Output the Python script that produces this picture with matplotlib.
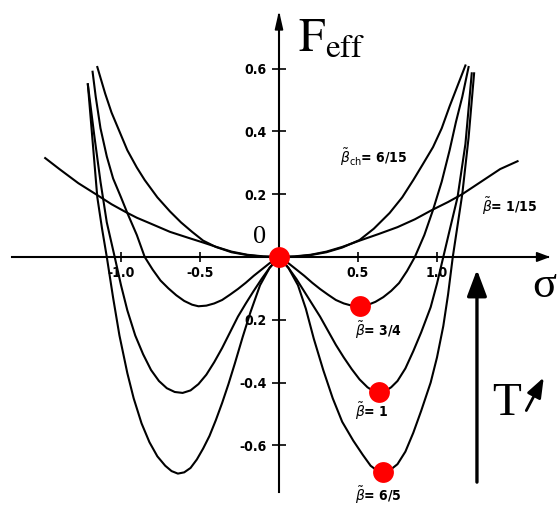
import matplotlib
matplotlib.use("Agg")
import matplotlib.pyplot as plt

plt.rcParams["mathtext.fontset"] = "dejavusans"

# Effective potential curves F_eff(sigma) for several couplings
sig_1_15 = [-1.48, -1.39, -1.27, -1.15, -1.06, -0.97, -0.90, -0.82, -0.69, -0.58,
            -0.48, -0.39, -0.30, -0.20, -0.10, 0.0, 0.10, 0.20, 0.30, 0.40, 0.51,
            0.63, 0.75, 0.86, 0.97, 1.07, 1.16, 1.28, 1.40, 1.51]
F_1_15 = [0.315, 0.28, 0.235, 0.197, 0.168, 0.143, 0.125, 0.108, 0.08, 0.062,
          0.046, 0.031, 0.017, 0.007, 0.002, 0.0, 0.002, 0.007, 0.017, 0.032, 0.052,
          0.073, 0.095, 0.12, 0.15, 0.175, 0.20, 0.24, 0.28, 0.305]

sig_6_15 = [-1.15, -1.10, -1.06, -1.01, -0.96, -0.90, -0.85, -0.77, -0.69, -0.62,
            -0.55, -0.48, -0.40, -0.30, -0.20, -0.10, 0.0, 0.10, 0.20, 0.30, 0.40,
            0.51, 0.60, 0.70, 0.78, 0.85, 0.91, 0.975, 1.03, 1.08, 1.13, 1.18]
F_6_15 = [0.605, 0.52, 0.46, 0.40, 0.34, 0.285, 0.245, 0.19, 0.145, 0.11,
          0.08, 0.052, 0.032, 0.015, 0.006, 0.001, 0.0, 0.001, 0.006, 0.015, 0.03,
          0.054, 0.09, 0.14, 0.19, 0.245, 0.295, 0.35, 0.41, 0.48, 0.545, 0.61]

sig_3_4 = [-1.18, -1.16, -1.13, -1.09, -1.05, -1.00, -0.96, -0.90, -0.85, -0.80,
           -0.75, -0.70, -0.65, -0.60, -0.55, -0.51, -0.46, -0.41, -0.36, -0.31,
           -0.26, -0.21, -0.16, -0.11, -0.06, 0.0, 0.06, 0.11, 0.16, 0.21, 0.26,
           0.31, 0.36, 0.41, 0.46, 0.51, 0.56, 0.61, 0.66, 0.71, 0.76, 0.81, 0.86,
           0.92, 0.975, 1.03, 1.08, 1.12, 1.16, 1.20]
F_3_4 = [0.59, 0.51, 0.41, 0.32, 0.25, 0.19, 0.14, 0.07, 0.0, -0.04,
         -0.075, -0.10, -0.122, -0.14, -0.152, -0.157, -0.155, -0.148, -0.137, -0.12,
         -0.102, -0.082, -0.06, -0.04, -0.02, 0.0, -0.02, -0.04, -0.06, -0.082,
         -0.102, -0.12, -0.137, -0.148, -0.155, -0.157, -0.153, -0.143, -0.128,
         -0.108, -0.083, -0.045, 0.0, 0.07, 0.15, 0.24, 0.34, 0.43, 0.51, 0.605]

sig_1 = [-1.21, -1.17, -1.13, -1.09, -1.04, -1.00, -0.96, -0.91, -0.86, -0.81,
         -0.76, -0.71, -0.66, -0.61, -0.56, -0.51, -0.46, -0.41, -0.36, -0.31,
         -0.26, -0.21, -0.16, -0.11, -0.06, 0.0, 0.06, 0.11, 0.16, 0.21, 0.26,
         0.31, 0.36, 0.41, 0.46, 0.51, 0.56, 0.60, 0.633, 0.67, 0.71, 0.75, 0.80,
         0.85, 0.90, 0.96, 1.00, 1.04, 1.08, 1.13, 1.18, 1.22]
F_1 = [0.55, 0.39, 0.24, 0.11, 0.0, -0.09, -0.17, -0.25, -0.31, -0.36,
       -0.395, -0.418, -0.43, -0.433, -0.425, -0.405, -0.375, -0.335, -0.29, -0.24,
       -0.19, -0.148, -0.108, -0.07, -0.035, 0.0, -0.035, -0.07, -0.11, -0.15,
       -0.19, -0.235, -0.28, -0.32, -0.357, -0.39, -0.415, -0.428, -0.433, -0.428,
       -0.415, -0.395, -0.355, -0.30, -0.24, -0.16, -0.085, 0.0, 0.085, 0.19,
       0.36, 0.585]

sig_6_5 = [-1.21, -1.18, -1.15, -1.12, -1.09, -1.05, -1.01, -0.96, -0.92, -0.87,
           -0.82, -0.77, -0.72, -0.68, -0.64, -0.60, -0.56, -0.52, -0.48, -0.44,
           -0.40, -0.36, -0.32, -0.28, -0.23, -0.18, -0.12, -0.06, 0.0, 0.06,
           0.12, 0.17, 0.22, 0.28, 0.34, 0.40, 0.47, 0.53, 0.58, 0.62, 0.658, 0.70,
           0.75, 0.80, 0.85, 0.90, 0.96, 1.00, 1.04, 1.07, 1.10, 1.13, 1.16, 1.20,
           1.235]
F_6_5 = [0.55, 0.37, 0.19, 0.09, 0.0, -0.13, -0.25, -0.37, -0.45, -0.53,
         -0.59, -0.635, -0.665, -0.682, -0.69, -0.686, -0.672, -0.645, -0.61, -0.57,
         -0.52, -0.465, -0.405, -0.34, -0.255, -0.175, -0.09, -0.035, 0.0, -0.035,
         -0.09, -0.165, -0.26, -0.36, -0.45, -0.525, -0.585, -0.63, -0.665, -0.68,
         -0.685, -0.68, -0.66, -0.62, -0.56, -0.49, -0.40, -0.32, -0.22, -0.12,
         0.0, 0.10, 0.20, 0.38, 0.585]

# Minima (and the symmetric point) marked in red
dot_sig = [0.0, 0.513, 0.633, 0.658]
dot_F = [0.0, -0.156, -0.43, -0.685]

xticks = [-1.0, -0.5, 0.5, 1.0]
xticklabels = ["-1.0", "-0.5", "0.5", "1.0"]
yticks = [-0.6, -0.4, -0.2, 0.2, 0.4, 0.6]
yticklabels = ["-0.6", "-0.4", "0.2", "0.2", "0.4", "0.6"]

fig = plt.figure(figsize=(5.58, 5.05), dpi=100)
ax = fig.add_axes([0, 0, 1, 1])
ax.set_xlim(-1.766, 1.766)
ax.set_ylim(-0.790, 0.8185)

lw = 1.5
for s, f in [(sig_1_15, F_1_15), (sig_6_15, F_6_15), (sig_3_4, F_3_4),
             (sig_1, F_1), (sig_6_5, F_6_5)]:
    ax.plot(s, f, color="black", lw=lw, solid_joinstyle="round", zorder=3)

ax.plot(dot_sig, dot_F, "o", color="#ff0000", ms=15, mec="none", zorder=5)

# Axes through the origin
for side in ["top", "right"]:
    ax.spines[side].set_visible(False)
ax.spines["left"].set_position(("data", 0))
ax.spines["bottom"].set_position(("data", 0))
ax.spines["left"].set_bounds(-0.748, 0.77)
ax.spines["bottom"].set_bounds(-1.69, 1.70)
ax.spines["left"].set_linewidth(1.5)
ax.spines["bottom"].set_linewidth(1.5)

ax.set_xticks(xticks)
ax.set_xticklabels(xticklabels)
ax.set_yticks(yticks)
ax.set_yticklabels(yticklabels)
ax.tick_params(axis="x", direction="inout", length=7, width=1.2, pad=3)
ax.tick_params(axis="y", direction="inout", length=10, width=1.2, pad=4)
for lab in ax.get_xticklabels() + ax.get_yticklabels():
    lab.set_fontsize(10)
    lab.set_fontweight("bold")
    lab.set_fontstretch("condensed")

# Arrowheads on the axes
ax.annotate("", xy=(1.734, 0), xytext=(1.68, 0),
            arrowprops=dict(arrowstyle="-|>,head_length=0.8,head_width=0.3",
                            color="black", lw=1.2, mutation_scale=10))
ax.annotate("", xy=(0, 0.793), xytext=(0, 0.74),
            arrowprops=dict(arrowstyle="-|>,head_length=1.1,head_width=0.25",
                            color="black", lw=1.2, mutation_scale=10))

serif = "Liberation Serif"
ax.text(0.12, 0.653, r"$\mathrm{F}_{\mathrm{eff}}$", fontsize=34,
        math_fontfamily="stix", ha="left", va="baseline")
ax.text(-0.165, 0.045, "0", fontsize=19, family=serif, ha="left", va="baseline")
ax.text(1.60, -0.127, "σ", fontsize=32, family=serif, ha="left", va="baseline")
ax.text(1.348, -0.503, "T", fontsize=34, family=serif, ha="left", va="baseline")

# Temperature arrows
ax.annotate("", xy=(1.253, -0.032), xytext=(1.253, -0.726),
            arrowprops=dict(arrowstyle="-|>,head_length=1.6,head_width=0.6",
                            color="black", lw=2.4, mutation_scale=10))
ax.annotate("", xy=(1.684, -0.376), xytext=(1.557, -0.497),
            arrowprops=dict(arrowstyle="-|>,head_length=1.2,head_width=0.45",
                            color="black", lw=2.0, mutation_scale=10))

lab_kw = dict(fontsize=10, fontweight="bold", fontstretch="condensed",
              ha="left", va="baseline")
ax.text(0.386, 0.30, r"$\tilde{\beta}_{\rm ch}$= 6/15", **lab_kw)
ax.text(1.285, 0.143, r"$\tilde{\beta}$= 1/15", **lab_kw)
ax.text(0.48, -0.252, r"$\tilde{\beta}$= 3/4", **lab_kw)
ax.text(0.48, -0.51, r"$\tilde{\beta}$= 1", **lab_kw)
ax.text(0.48, -0.777, r"$\tilde{\beta}$= 6/5", **lab_kw)

fig.savefig("out.png", dpi=100)
